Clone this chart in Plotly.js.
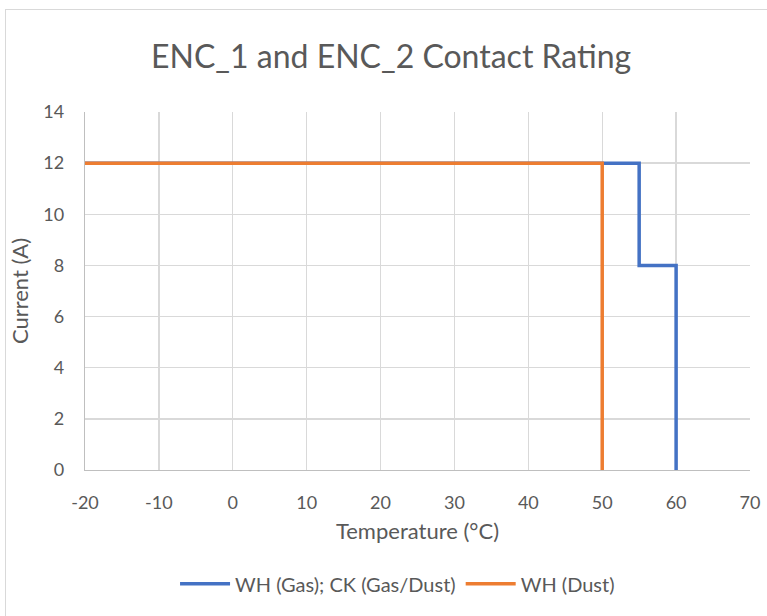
<!DOCTYPE html>
<html><head><meta charset="utf-8">
<script src="https://cdn.plot.ly/plotly-3.0.1.min.js"></script>
<style>
html,body{margin:0;padding:0;background:#fff;}
#wrap{position:relative;width:767px;height:616px;overflow:hidden;}
#chart{position:absolute;left:0;top:0;width:767px;height:616px;}
#frame{position:absolute;left:5px;top:9px;width:800px;height:700px;border:1px solid #d9d9d9;pointer-events:none;}
</style></head>
<body><div id="wrap"><div id="chart"></div><div id="frame"></div></div>
<script>
const blueX = [-20, 55, 55, 60, 60];
const blueY = [12, 12, 8, 8, 0];
const orangeX = [-20, 50, 50];
const orangeY = [12, 12, 0];
const xTicks = [-20, -10, 0, 10, 20, 30, 40, 50, 60, 70];
const yTicks = [0, 2, 4, 6, 8, 10, 12, 14];

const font = "Lato, 'Open Sans', sans-serif";
const data = [
  {x: blueX, y: blueY, mode: 'lines', name: 'WH (Gas); CK (Gas/Dust)', line: {color: '#4472c4', width: 3.5}},
  {x: orangeX, y: orangeY, mode: 'lines', name: 'WH (Dust)', line: {color: '#ed7d31', width: 3.5}}
];
const layout = {
  width: 767, height: 616,
  margin: {l: 85, r: 17, t: 112, b: 143},
  paper_bgcolor: '#fff', plot_bgcolor: '#fff',
  font: {family: font, color: '#595959'},
  title: {text: 'ENC_1 and ENC_2 Contact Rating', font: {size: 32, color: '#595959', family: font}, x: 0.51, xanchor: 'center', y: 0.908, yanchor: 'middle'},
  xaxis: {
    range: [-20, 70], tickvals: xTicks, ticktext: xTicks.map(String),
    showgrid: true, gridcolor: '#d9d9d9', gridwidth: 1.3,
    showline: true, linecolor: '#bfbfbf', linewidth: 1.3, zeroline: false,
    tickfont: {size: 18, color: '#595959'}, ticks: '', ticklabelstandoff: 16,
    title: {text: 'Temperature (°C)', font: {size: 22, color: '#595959'}, standoff: 11}
  },
  yaxis: {
    range: [0, 14], tickvals: yTicks, ticktext: yTicks.map(String),
    showgrid: true, gridcolor: '#d9d9d9', gridwidth: 1.3,
    showline: true, linecolor: '#bfbfbf', linewidth: 1.3, zeroline: false,
    tickfont: {size: 18, color: '#595959'}, ticks: '', ticklabelstandoff: 16,
    title: {text: 'Current (A)', font: {size: 22, color: '#595959'}, standoff: 8}
  },
  showlegend: true,
  legend: {orientation: 'h', x: 0.47, xanchor: 'center', y: -0.318, yanchor: 'middle', font: {size: 20, color: '#595959'}, traceorder: 'normal', itemwidth: 50}
};
Plotly.newPlot('chart', data, layout, {displayModeBar: false, staticPlot: true});
</script></body></html>
